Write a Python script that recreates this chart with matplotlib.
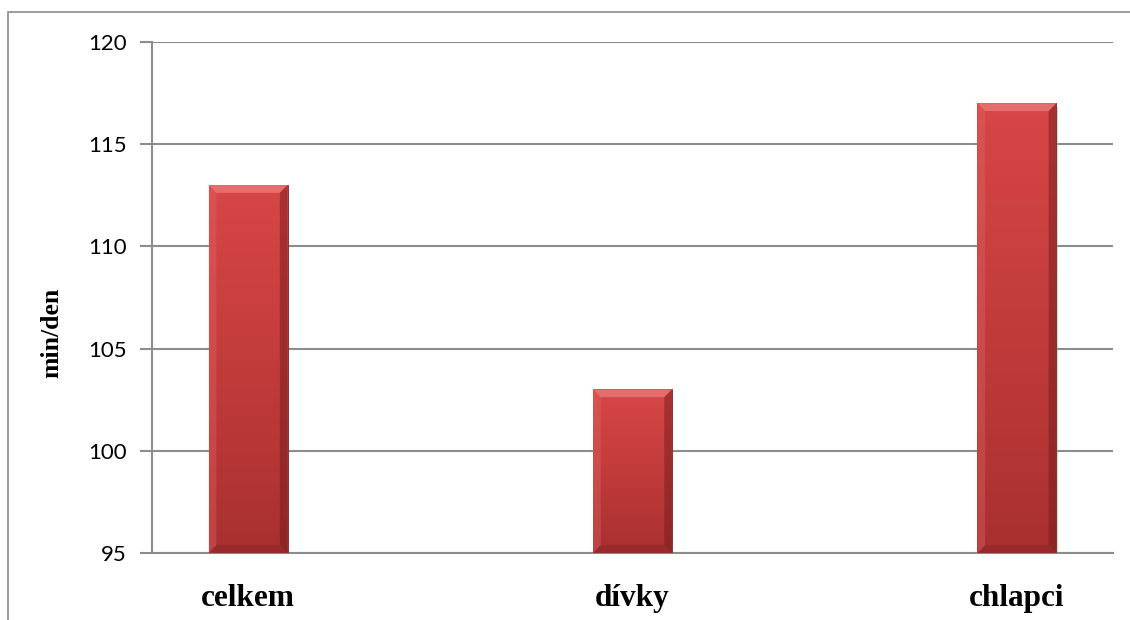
import matplotlib.pyplot as plt
import numpy as np
from matplotlib.colors import LinearSegmentedColormap
from matplotlib.patches import Polygon, Rectangle

categories = ['celkem', 'dívky', 'chlapci']
values = [113, 103, 117]
y_ticks = [95, 100, 105, 110, 115, 120]

fig = plt.figure(figsize=(11.3, 6.2), dpi=100)
ax = fig.add_axes([152 / 1130, 1 - 553 / 620, (1113 - 152) / 1130, (553 - 42) / 620])

# frame around the whole chart area
fig.patches.append(Rectangle((8 / 1130, -0.1), 1.2, 1 - 12 / 620 + 0.1,
                             transform=fig.transFigure, fill=False,
                             edgecolor='#8c8c8c', linewidth=1.2))

grad = LinearSegmentedColormap.from_list('bar', ['#a93030', '#c23b3b', '#d84646'])
x = np.arange(len(categories))
bars = ax.bar(x, [v - 95 for v in values], width=0.205, bottom=95,
              color='#c43c3c', edgecolor='#8a2525', linewidth=0.6, zorder=3)
bx, by = 0.02, 0.38  # bevel size in data units
for b in bars:
    x0, y0 = b.get_x(), b.get_y()
    w, h = b.get_width(), b.get_height()
    x1, y1 = x0 + w, y0 + h
    # drop shadow
    ax.add_patch(Rectangle((x0 + 0.004, y0 - 0.18), w, h, color='#b5b5b5',
                           alpha=0.55, zorder=2, linewidth=0))
    img = ax.imshow(np.linspace(0, 1, 256).reshape(-1, 1), cmap=grad,
                    extent=[x0, x1, y0, y1], origin='lower',
                    aspect='auto', zorder=3.5)
    img.set_clip_path(b)
    # bevels
    ax.add_patch(Polygon([(x0, y1), (x1, y1), (x1 - bx, y1 - by), (x0 + bx, y1 - by)],
                         closed=True, color='#f08888', alpha=0.6, zorder=4, lw=0))
    ax.add_patch(Polygon([(x0, y0), (x0, y1), (x0 + bx, y1 - by), (x0 + bx, y0 + by)],
                         closed=True, color='#e06a6a', alpha=0.35, zorder=4, lw=0))
    ax.add_patch(Polygon([(x1, y0), (x1, y1), (x1 - bx, y1 - by), (x1 - bx, y0 + by)],
                         closed=True, color='#6e1a1a', alpha=0.45, zorder=4, lw=0))
    ax.add_patch(Polygon([(x0, y0), (x1, y0), (x1 - bx, y0 + by), (x0 + bx, y0 + by)],
                         closed=True, color='#7a1f1f', alpha=0.35, zorder=4, lw=0))

ax.set_xlim(-0.25, 2.25)
ax.set_ylim(95, 120)
ax.set_yticks(y_ticks)
ax.set_yticklabels([str(t) for t in y_ticks], fontfamily='Lato', fontsize=16)
ax.yaxis.grid(True, color='#8c8c8c', linewidth=1.5, zorder=0)
ax.set_axisbelow(True)
ax.tick_params(axis='y', length=9, width=1.5, color='#8c8c8c', pad=9)
ax.set_xticks(x)
ax.set_xticklabels(categories, fontfamily='Liberation Serif', fontweight='bold',
                   fontsize=22.5)
ax.tick_params(axis='x', length=0, pad=22)
for s in ['top', 'right']:
    ax.spines[s].set_visible(False)
for s in ['left', 'bottom']:
    ax.spines[s].set_color('#8c8c8c')
    ax.spines[s].set_linewidth(1.5)
ax.set_ylabel('min/den', fontfamily='Liberation Serif', fontweight='bold',
              fontsize=18.5)
ax.yaxis.set_label_coords(-0.092, 0.43)

fig.savefig('out.png', dpi=100)
